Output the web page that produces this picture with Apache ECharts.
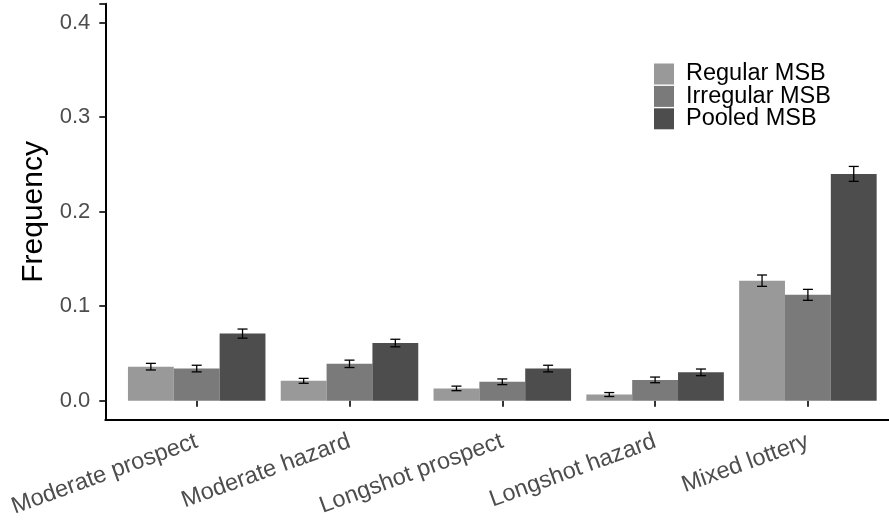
<!DOCTYPE html>
<html>
<head>
<meta charset="utf-8">
<script src="https://cdn.jsdelivr.net/npm/echarts@6/dist/echarts.min.js"></script>
<style>
  html, body { margin: 0; padding: 0; background: #fff; }
  #chart { width: 889px; height: 520px; }
</style>
</head>
<body>
<div id="chart"></div>
<script>
// Lottery types on the x axis
const categories = ['Moderate prospect', 'Moderate hazard', 'Longshot prospect', 'Longshot hazard', 'Mixed lottery'];
const seriesNames = ['Regular MSB', 'Irregular MSB', 'Pooled MSB'];

// Mean frequency per lottery type
const regular = [0.036, 0.021, 0.013, 0.0065, 0.127];
const irregular = [0.034, 0.039, 0.020, 0.022, 0.112];
const pooled = [0.071, 0.061, 0.034, 0.030, 0.240];

// Standard errors (half-length of each error bar)
const regularErr = [0.0035, 0.0026, 0.0024, 0.0021, 0.006];
const irregularErr = [0.0035, 0.0039, 0.003, 0.003, 0.0058];
const pooledErr = [0.0048, 0.004, 0.0035, 0.0035, 0.0079];

const yTicks = [0, 0.1, 0.2, 0.3, 0.4];

const colors = ['#999999', '#7a7a7a', '#4d4d4d'];
const FONT = "'Liberation Sans', Arial, Helvetica, sans-serif";
const BAR_FRAC = 0.3;

const values = [regular, irregular, pooled];
const errors = [regularErr, irregularErr, pooledErr];

function errorSeries(k) {
  const offset = k - 1;
  return {
    type: 'custom',
    xAxisIndex: 0,
    yAxisIndex: 0,
    z: 10,
    silent: true,
    data: values[k].map((v, i) => [i, v, errors[k][i]]),
    encode: { x: 0, y: 1 },
    renderItem: function (params, api) {
      const idx = api.value(0);
      const v = api.value(1);
      const e = api.value(2);
      const band = api.size([1, 0])[0];
      const x = api.coord([idx, v])[0] + offset * band * BAR_FRAC;
      const yLo = api.coord([idx, v - e])[1];
      const yHi = api.coord([idx, v + e])[1];
      const cap = 5;
      const style = { stroke: '#000', lineWidth: 1.3, fill: null };
      return {
        type: 'group',
        children: [
          { type: 'line', shape: { x1: x, y1: yLo, x2: x, y2: yHi }, style: style },
          { type: 'line', shape: { x1: x - cap, y1: yLo, x2: x + cap, y2: yLo }, style: style },
          { type: 'line', shape: { x1: x - cap, y1: yHi, x2: x + cap, y2: yHi }, style: style }
        ]
      };
    }
  };
}

const chart = echarts.init(document.getElementById('chart'), null, { renderer: 'canvas' });

const option = {
  backgroundColor: '#ffffff',
  animation: false,
  textStyle: { fontFamily: FONT },
  legend: {
    data: seriesNames,
    orient: 'vertical',
    left: 649,
    top: 57,
    icon: 'rect',
    itemWidth: 20,
    itemHeight: 21,
    itemGap: -1.6,
    selectedMode: false,
    textStyle: { fontFamily: FONT, fontSize: 23.5, color: '#000', lineHeight: 22, padding: [0, 0, 0, 7] }
  },
  grid: [
    // data panel
    { left: 120.3, width: 764, top: 3.8, bottom: 118.9, containLabel: false },
    // frame carrying the axis lines
    { left: 105.3, right: 0, top: 3.8, bottom: 100, containLabel: false }
  ],
  xAxis: [
    {
      type: 'category',
      gridIndex: 0,
      data: categories,
      offset: 19,
      axisLine: { show: false },
      axisTick: { show: true, alignWithLabel: true, length: 6, lineStyle: { color: '#333', width: 2 } },
      axisLabel: { rotate: 20, fontSize: 23.5, color: '#4d4d4d', margin: 21, fontFamily: FONT, interval: 0 },
      splitLine: { show: false }
    },
    {
      type: 'value',
      gridIndex: 1,
      min: 0, max: 1,
      axisLine: { show: true, onZero: false, lineStyle: { color: '#000', width: 2 } },
      axisTick: { show: false },
      axisLabel: { show: false },
      splitLine: { show: false }
    }
  ],
  yAxis: [
    {
      type: 'value',
      gridIndex: 0,
      min: 0,
      max: 0.42,
      interval: 0.1,
      offset: 15,
      axisLine: { show: false },
      axisTick: { show: true, length: 6, lineStyle: { color: '#333', width: 2 } },
      axisLabel: {
        fontSize: 22, color: '#4d4d4d', margin: 15, fontFamily: FONT,
        formatter: function (v) {
          const hit = yTicks.find(t => Math.abs(t - v) < 1e-9);
          return hit === undefined ? '' : hit.toFixed(1);
        }
      },
      splitLine: { show: false }
    },
    {
      type: 'value',
      gridIndex: 1,
      min: 0, max: 1,
      name: 'Frequency',
      nameLocation: 'middle',
      nameRotate: 90,
      nameGap: 57,
      nameTextStyle: { fontSize: 30, color: '#000', fontFamily: FONT },
      axisLine: { show: true, onZero: false, lineStyle: { color: '#000', width: 2 } },
      axisTick: { show: false },
      axisLabel: { show: false },
      splitLine: { show: false }
    }
  ],
  series: [
    ...seriesNames.map((name, k) => ({
      name: name,
      type: 'bar',
      xAxisIndex: 0,
      yAxisIndex: 0,
      data: values[k],
      barWidth: (BAR_FRAC * 100) + '%',
      barGap: '0%',
      itemStyle: { color: colors[k] },
      emphasis: { disabled: true }
    })),
    errorSeries(0),
    errorSeries(1),
    errorSeries(2)
  ]
};

chart.setOption(option);
</script>
</body>
</html>
